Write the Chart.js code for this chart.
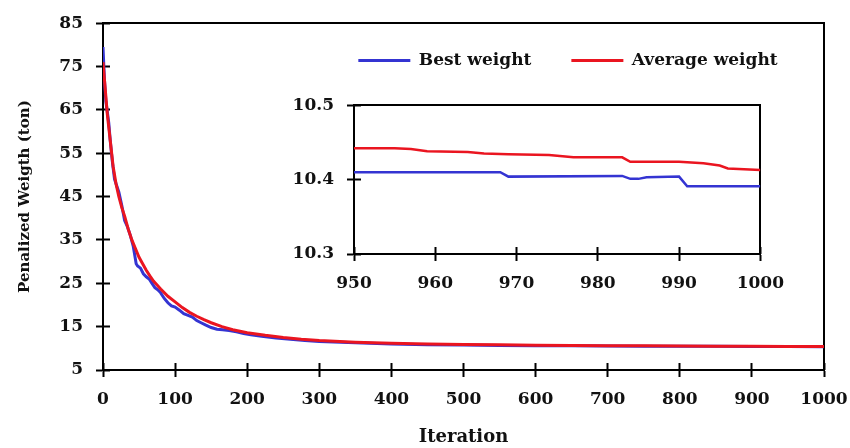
<!DOCTYPE html>
<html>
<head>
<meta charset="utf-8">
<script src="https://cdn.jsdelivr.net/npm/chart.js@4.4.0/dist/chart.umd.min.js"></script>
<style>
  html, body { margin: 0; padding: 0; background: #fff; }
  #wrap { position: relative; width: 850px; height: 448px; overflow: hidden; }
  #wrap canvas { position: absolute; }
</style>
</head>
<body>
<div id="wrap">
  <canvas id="main" width="850" height="448" style="left:0;top:0"></canvas>
  <canvas id="inset" width="504" height="223" style="left:280px;top:82px"></canvas>
  <canvas id="legend" width="620" height="120" style="left:258px;top:12px"></canvas>
</div>
<script>
// series labels and colours
const seriesNames = ['Best weight', 'Average weight'];
const seriesColors = ['#3434d2', '#ea1520'];

// main plot: iteration vs penalized weight (ton)
const bestIter = [0, 2, 4, 6, 8, 10, 13, 16, 19, 22, 26, 30, 34, 38, 42, 46, 48, 52, 56, 60, 64, 68, 72, 76, 80, 85, 90, 95, 100, 106, 112, 118, 124, 130, 136, 142, 150, 158, 166, 175, 185, 195, 205, 220, 240, 260, 280, 300, 330, 360, 400, 450, 500, 550, 600, 650, 700, 750, 800, 850, 900, 950, 1000];
const bestWeight = [79.5, 72, 67, 64.5, 62, 58, 53, 49, 47.5, 46, 43, 39.5, 38, 36, 33.5, 29.5, 29, 28.5, 27.2, 26.5, 26, 25, 24, 23.5, 22.8, 21.5, 20.5, 19.8, 19.5, 18.8, 18, 17.6, 17.2, 16.4, 15.9, 15.4, 14.8, 14.4, 14.3, 14.1, 13.8, 13.4, 13.1, 12.8, 12.4, 12.1, 11.8, 11.6, 11.4, 11.2, 11.0, 10.85, 10.75, 10.68, 10.62, 10.57, 10.53, 10.5, 10.47, 10.45, 10.43, 10.41, 10.39];
const avgIter = [0, 3, 6, 10, 14, 18, 22, 26, 30, 35, 40, 45, 50, 55, 60, 65, 70, 80, 90, 100, 110, 120, 130, 140, 150, 165, 180, 200, 225, 250, 275, 300, 350, 400, 450, 500, 550, 600, 650, 700, 750, 800, 850, 900, 950, 1000];
const avgWeight = [76, 70, 64, 58, 52, 48, 45, 42.5, 40.5, 37.5, 35, 33, 31, 29.5, 28, 26.7, 25.5, 23.7, 22, 20.7, 19.4, 18.3, 17.4, 16.6, 15.9, 15, 14.3, 13.6, 13, 12.5, 12.1, 11.8, 11.4, 11.15, 11.0, 10.88, 10.8, 10.73, 10.67, 10.62, 10.58, 10.54, 10.5, 10.47, 10.44, 10.41];

// inset: last 50 iterations
const zoomBestIter = [950, 968, 969, 983, 984, 985, 986, 990, 991, 1000];
const zoomBestWeight = [10.41, 10.41, 10.404, 10.405, 10.401, 10.401, 10.403, 10.404, 10.391, 10.391];
const zoomAvgIter = [950, 955, 957, 959, 964, 966, 969, 974, 977, 983, 984, 990, 993, 995, 996, 1000];
const zoomAvgWeight = [10.442, 10.442, 10.441, 10.438, 10.437, 10.435, 10.434, 10.433, 10.43, 10.43, 10.424, 10.424, 10.422, 10.419, 10.415, 10.413];

// axis ranges
const mainX = [0, 1000, 100];
const mainY = [5, 85, 10];
const zoomX = [950, 1000, 10];
const zoomY = [10.3, 10.5, 0.1];

const FONT = 'DejaVu Serif';
const INK = '#111';

function pts(xs, ys) {
  return xs.map((x, i) => ({ x: x, y: ys[i] }));
}

// box-style axes: outer ticks with labels, inner tick stubs, and a closed frame
function frameScales(o) {
  const tickFont = { family: FONT, weight: 'bold', size: 17 };
  const edge = { color: '#000', width: 2 };
  const hidden = (pos) => ({
    type: 'linear', position: pos,
    ticks: { display: false },
    grid: { display: false },
    border: edge,
    afterFit: s => { if (pos === 'top') s.height = 0; else s.width = 0; }
  });
  return {
    x: {
      type: 'linear', position: 'bottom', min: o.x[0], max: o.x[1],
      // padding 0 keeps the side overhang small; the tall line height pushes the labels down instead
      ticks: { stepSize: o.x[2], padding: 0, color: INK, font: Object.assign({ lineHeight: 2.6 }, tickFont), maxRotation: 0, autoSkip: false, callback: v => String(v) },
      grid: { drawOnChartArea: false, tickLength: 7, tickWidth: 2, color: '#000' },
      border: edge,
      title: o.xTitle ? { display: true, text: o.xTitle, color: INK, font: { family: FONT, weight: 'bold', size: 18 }, padding: { top: 0, bottom: 0 } } : { display: false },
      afterFit: s => { s.height = o.xH; }
    },
    xIn: {
      type: 'linear', position: 'bottom', weight: -1, min: o.x[0], max: o.x[1],
      ticks: { stepSize: o.x[2], display: false },
      grid: { drawOnChartArea: false, tickLength: -7, tickWidth: 2, color: '#000' },
      border: { display: false },
      afterFit: s => { s.height = 0; }
    },
    y: {
      type: 'linear', position: 'left', min: o.y[0], max: o.y[1],
      ticks: { stepSize: o.y[2], padding: 13, color: INK, font: tickFont, callback: o.yFmt || (v => String(v)) },
      grid: { drawOnChartArea: false, tickLength: 7, tickWidth: 2, color: '#000' },
      border: edge,
      title: o.yTitle ? { display: true, text: o.yTitle, color: INK, font: { family: FONT, weight: 'bold', size: 15 }, padding: { top: 4, bottom: 0 } } : { display: false },
      afterFit: s => { s.width = o.yW; }
    },
    yIn: {
      type: 'linear', position: 'left', weight: -1, min: o.y[0], max: o.y[1],
      ticks: { stepSize: o.y[2], display: false },
      grid: { drawOnChartArea: false, tickLength: -7, tickWidth: 2, color: '#000' },
      border: { display: false },
      afterFit: s => { s.width = 0; }
    },
    xTop: hidden('top'),
    yRight: hidden('right')
  };
}

function lineSet(i, data, width) {
  return {
    label: seriesNames[i], data: data,
    borderColor: seriesColors[i], backgroundColor: seriesColors[i],
    borderWidth: width, pointRadius: 0, tension: 0,
    order: i === 0 ? 1 : 0
  };
}

const common = {
  responsive: false, animation: false, devicePixelRatio: 1,
  plugins: { legend: { display: false }, tooltip: { enabled: false } },
  events: []
};

new Chart(document.getElementById('main'), {
  type: 'line',
  data: {
    datasets: [
      lineSet(0, pts(bestIter, bestWeight), 3),
      lineSet(1, pts(avgIter, avgWeight), 3)
    ]
  },
  options: Object.assign({}, common, {
    layout: { padding: { top: 23, right: 26, bottom: 0, left: 12 } },
    scales: frameScales({ x: mainX, y: mainY, xTitle: 'Iteration', yTitle: 'Penalized Weigth (ton)', xH: 78, yW: 91 })
  })
});

new Chart(document.getElementById('inset'), {
  type: 'line',
  data: {
    datasets: [
      lineSet(0, pts(zoomBestIter, zoomBestWeight), 2.5),
      lineSet(1, pts(zoomAvgIter, zoomAvgWeight), 2.5)
    ]
  },
  options: Object.assign({}, common, {
    layout: { padding: 0 },
    scales: frameScales({ x: zoomX, y: zoomY, xH: 51, yW: 74, yFmt: v => v.toFixed(1) })
  })
});

// legend only
new Chart(document.getElementById('legend'), {
  type: 'line',
  data: {
    datasets: seriesNames.map((n, i) => ({ label: n, data: [], borderColor: seriesColors[i], backgroundColor: seriesColors[i], borderWidth: 0 }))
  },
  options: Object.assign({}, common, {
    scales: { x: { display: false }, y: { display: false } },
    plugins: {
      tooltip: { enabled: false },
      legend: {
        display: true, position: 'top', align: 'center',
        labels: { boxWidth: 52, boxHeight: 3, padding: 40, color: INK, font: { family: FONT, weight: 'bold', size: 17 } }
      }
    }
  })
});
</script>
</body>
</html>
